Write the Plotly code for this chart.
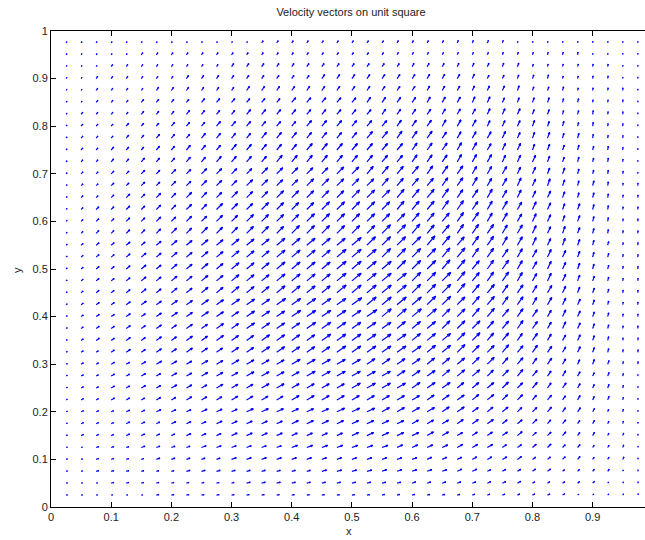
import math
import plotly.graph_objects as go

# ---------------- data ----------------
x_grid = [0.025, 0.05, 0.075, 0.1, 0.125, 0.15, 0.175, 0.2, 0.225, 0.25, 0.275, 0.3, 0.325,
          0.35, 0.375, 0.4, 0.425, 0.45, 0.475, 0.5, 0.525, 0.55, 0.575, 0.6, 0.625, 0.65,
          0.675, 0.7, 0.725, 0.75, 0.775, 0.8, 0.825, 0.85, 0.875, 0.9, 0.925, 0.95, 0.975]
y_grid = [0.025, 0.05, 0.075, 0.1, 0.125, 0.15, 0.175, 0.2, 0.225, 0.25, 0.275, 0.3, 0.325,
          0.35, 0.375, 0.4, 0.425, 0.45, 0.475, 0.5, 0.525, 0.55, 0.575, 0.6, 0.625, 0.65,
          0.675, 0.7, 0.725, 0.75, 0.775, 0.8, 0.825, 0.85, 0.875, 0.9, 0.925, 0.95, 0.975]

# speed level 0..9 per arrow (row 1 = bottom row y=0.025), columns left to right
speed_level = [
    "000000 1111111111111111111111111111 00000",
    "000 111111111 2222222222222222222 11111 000",
    "00 111111 222222222 33333333333 22222 1111 00",
    "00 1111 22222 33333333333333333333 2222 111 0",
    "00 111 2222 333333 44444444444444 3333 22 111 0",
    "0 111 2222 333 44444444 5555555 44444 333 22 11 0",
    "0 111 222 333 44444 55555555555555 444 33 22 11 0",
    "0 111 22 333 444 555555 666666666 555 444 33 2 11 0",
    "0 11 222 33 444 5555 66666666666666 55 44 33 22 1 0",
    "0 11 22 33 444 555 666666 7777777 6666 55 44 3 22 1 0",
    "0 11 22 33 44 555 6666 777777777777 666 5 44 3 22 1 0",
    "0 11 22 3 444 55 6666 77777777777777 66 55 4 33 2 11",
    "0 11 2 33 44 555 66 77777 888888888 777 66 5 44 3 2 11",
    "0 1 22 33 44 55 666 7777 88888888888 77 66 5 44 3 2 11",
    "0 1 22 33 44 55 66 7777 888888888888 777 6 55 4 3 2 11",
    "0 1 22 33 4 55 666 777 88888 99999 8888 77 6 55 4 3 2 11",
    "0 1 22 3 44 55 66 777 88888 9999999 888 77 66 5 4 3 2 11",
    "0 1 22 3 44 55 66 777 8888 999999999 88 77 66 5 4 3 2 11",
    "0 1 22 3 44 55 66 777 8888 999999999 888 7 66 5 4 3 2 11",
    "0 1 22 3 44 55 66 777 8888 999999999 888 7 66 5 4 3 2 11",
    "0 1 22 3 44 55 66 777 8888 999999999 88 77 66 5 4 3 2 11",
    "0 1 22 33 4 55 66 777 88888 9999999 888 77 6 55 4 3 2 11",
    "0 1 22 33 4 55 666 777 888888 999 88888 77 6 55 4 3 2 11",
    "0 1 22 33 44 55 66 7777 888888888888 77 66 5 44 3 2 11",
    "0 1 22 33 44 55 666 7777 8888888888 777 66 5 44 3 2 11",
    "0 11 2 33 44 555 666 77777 8888888 777 66 55 4 33 2 11",
    "0 11 22 33 44 555 6666 777777777777 666 55 4 33 2 11",
    "0 11 22 33 44 5555 66666 777777777 666 55 44 3 22 1 0",
    "0 11 22 333 44 5555 666666666666666 555 4 33 22 1 0",
    "0 11 222 33 444 55555 666666666666 555 44 33 22 1 0",
    "0 111 22 333 4444 5555555 66666 55555 444 33 2 11 0",
    "0 111 222 333 444444 555555555555 4444 33 22 11 0",
    "0 1111 222 3333 4444444444444444444 33 222 11 0",
    "00 111 2222 333333 44444444444444 3333 22 111 0",
    "00 1111 222222 3333333333333333333 222 1111 0",
    "00 111111 222222222 33333333333 22222 1111 00",
    "000 11111111 22222222222222222222 111111 00",
    "00000 111111111111111111111111111111 0000",
    "0000000000000 11111111111111111 000000000",
]

# direction on screen in 5-degree steps: a=0 (pointing right), b=5, c=10, ... j=45, ... s=90 (up)
angle_code = [
    "ccccc ccccc ccccc ccccc c dddddd eee fff g h i j l n",
    "ddddd ddddd ddddd ddddd ddd eeeee ff gg hh i j l m o",
    "ddddd ddddd ddddd ddddd d eeeee fff gg hh i j k l n p",
    "eeeee eeeee eeeee eeeee eeee fff ggg hh i j k l m n p",
    "eeeee eeeee eeeee eeeee ee ffff ggg hh i jj k l m o p",
    "fffff fffff fffff fffff ffff ggg hhh ii j k l m n o q",
    "fffff fffff fffff fffff fff ggg hhh ii j kk l m n p q",
    "fffff fffff fffff fffff f gggg hhh ii jj k ll m o p q",
    "ggggg ggggg ggggg ggggg gggg hhh ii jj kk l m n o p q",
    "ggggg ggggg ggggg ggggg ggg hhh iii jj k ll m n o p q",
    "ggggg ggggg ggggg ggggg gg hhh iii jj kk l mm n o p q",
    "ggggg ggggg ggggg ggggg hhhh iii jj kk ll m n oo p q",
    "hhhhh hhhhh hhhhh hhhhh hhhh ii jjj kk ll m n o p qq",
    "hhhhh hhhhh hhhhh hhhhh hhh iii jj kk ll mm n o p qq",
    "hhhhh hhhhh hhhhh hhhhh hh iii jjj kk ll m nn o p q r",
    "hhhhh hhhhh hhhhh hhhhh h iiii jj kkk ll m nn o p q r",
    "hhhhh hhhhh hhhhh hhhhh iiii jjj kk ll mm nn o p q r",
    "iiiii iiiii iiiii iiiii iii jjj kkk ll mm n oo p q r",
    "iiiii iiiii iiiii iiiii iii jjj kk ll mm nn oo p q r",
    "iiiii iiiii iiiii iiiii ii jjj kkk ll mm nn o pp q r",
    "iiiii iiiii iiiii iiiii i jjjj kk lll mm nn o pp q r",
    "iiiii iiiii iiiii iiiii jjjj kkk ll mm nn oo pp q r",
    "jjjjj jjjjj jjjjj jjjjj jjj kkk lll mm nn oo p qq r",
    "jjjjj jjjjj jjjjj jjjjj jjj kkk ll mmm nn oo p qq r",
    "jjjjj jjjjj jjjjj jjjjj jj kkk lll mmm nn oo p qq r",
    "jjjjj jjjjj jjjjj jjjjj jj kkk lll mm nnn o pp qq r",
    "jjjjj jjjjj jjjjj jjjjj j kkkk ll mmm nn oo pp qq r",
    "jjjjj jjjjj jjjjj jjjjj kkkk lll mmm nn oo pp qq r",
    "kkkkk kkkkk kkkkk kkkkk kkk lll mmm nnn oo pp q rr",
    "kkkkk kkkkk kkkkk kkkkk kkk lll mmm nn ooo pp q rr",
    "kkkkk kkkkk kkkkk kkkkk kk llll mmm nn oo pp qq rr",
    "kkkkk kkkkk kkkkk kkkkk kk lll mmm nnn oo pp qq rr",
    "kkkkk kkkkk kkkkk kkkkk k llll mmm nnn oo pp qq rr",
    "kkkkk kkkkk kkkkk kkkkk llll mmm nnn ooo pp qq rr",
    "lllll lllll lllll lllll llll mmm nnn ooo pp qq rr",
    "lllll lllll lllll lllll llll mmm nnn oo ppp qq rr",
    "lllll lllll lllll lllll lll mmm nnn ooo ppp qq rr",
    "lllll lllll lllll lllll ll mmmm nnn ooo pp qqq rr",
    "lllll lllll lllll lllll ll mmmm nnn ooo pp qqq rr",
]

x_tick_vals = [0, 0.1, 0.2, 0.3, 0.4, 0.5, 0.6, 0.7, 0.8, 0.9]
x_tick_text = ["0", "0.1", "0.2", "0.3", "0.4", "0.5", "0.6", "0.7", "0.8", "0.9"]
y_tick_vals = [0, 0.1, 0.2, 0.3, 0.4, 0.5, 0.6, 0.7, 0.8, 0.9, 1.0]
y_tick_text = ["0", "0.1", "0.2", "0.3", "0.4", "0.5", "0.6", "0.7", "0.8", "0.9", "1"]

# ---------------- layout geometry ----------------
W, H = 645, 540
ML, MR, MT, MB = 51, 0, 31, 33
X_RANGE = [0, 0.987]
Y_RANGE = [0, 1]
px_x = (W - ML - MR) / (X_RANGE[1] - X_RANGE[0])
px_y = (H - MT - MB) / (Y_RANGE[1] - Y_RANGE[0])
L_MIN, L_MAX = 1.5, 12.0   # arrow length in pixels for speed level 0 and 9
HEAD_BACK, HEAD_HALF = 0.33, 0.33 * 0.36

xs, ys = [], []
for j, yv in enumerate(y_grid):
    srow = speed_level[j].replace(" ", "")
    arow = angle_code[j].replace(" ", "")
    assert len(srow) == 39, ("speed row", j + 1, len(srow))
    assert len(arow) == 39, ("angle row", j + 1, len(arow))
    for i, xv in enumerate(x_grid):
        s = int(srow[i]) / 9.0
        th = math.radians(5 * (ord(arow[i]) - ord("a")))
        L = L_MIN + (L_MAX - L_MIN) * s
        ux, uy = math.cos(th), math.sin(th)
        px_, py_ = -uy, ux
        tipx = xv + L * ux / px_x
        tipy = yv + L * uy / px_y
        b, h = HEAD_BACK * L, HEAD_HALF * L
        h1x = tipx + (-b * ux + h * px_) / px_x
        h1y = tipy + (-b * uy + h * py_) / px_y
        h2x = tipx + (-b * ux - h * px_) / px_x
        h2y = tipy + (-b * uy - h * py_) / px_y
        xs += [xv, tipx, None, h1x, tipx, h2x, None]
        ys += [yv, tipy, None, h1y, tipy, h2y, None]

fig = go.Figure()
fig.add_trace(go.Scatter(x=xs, y=ys, mode="lines",
                         line=dict(color="#0000ff", width=1.2),
                         hoverinfo="skip", showlegend=False))

FONT = "Liberation Sans, Arial, sans-serif"
axis_common = dict(showgrid=False, zeroline=False, showline=True, linecolor="#000000",
                   linewidth=1, ticks="inside", ticklen=5, tickcolor="#000000",
                   automargin=False,
                   tickfont=dict(family=FONT, size=11, color="#222222"))
fig.update_layout(
    width=W, height=H,
    margin=dict(l=ML, r=MR, t=MT, b=MB, pad=0, autoexpand=False),
    paper_bgcolor="white", plot_bgcolor="white",
    xaxis=dict(range=X_RANGE, tickvals=x_tick_vals, ticktext=x_tick_text,
               mirror="ticks", **axis_common),
    yaxis=dict(range=Y_RANGE, tickvals=y_tick_vals, ticktext=y_tick_text,
               mirror=False, **axis_common),
    title=dict(text="Velocity vectors on unit square", x=351 / W, xanchor="center",
               xref="container", y=1 - 12 / H, yref="container", yanchor="middle",
               font=dict(family=FONT, size=11, color="#222222")),
    annotations=[
        dict(text="x", xref="paper", yref="paper", x=(349 - ML) / (W - ML - MR),
             y=-(531 - (H - MB)) / (H - MT - MB), showarrow=False,
             xanchor="center", yanchor="middle",
             font=dict(family=FONT, size=11, color="#222222")),
        dict(text="y", xref="paper", yref="paper", x=-(ML - 17) / (W - ML - MR),
             y=(H - MB - 270) / (H - MT - MB), showarrow=False, textangle=-90,
             xanchor="center", yanchor="middle",
             font=dict(family=FONT, size=11, color="#222222")),
    ],
)

fig.write_html("out.html",
               config={"displayModeBar": False, "staticPlot": True},
               post_script="document.body.style.margin='0';"
                           "document.body.style.overflow='hidden';")
